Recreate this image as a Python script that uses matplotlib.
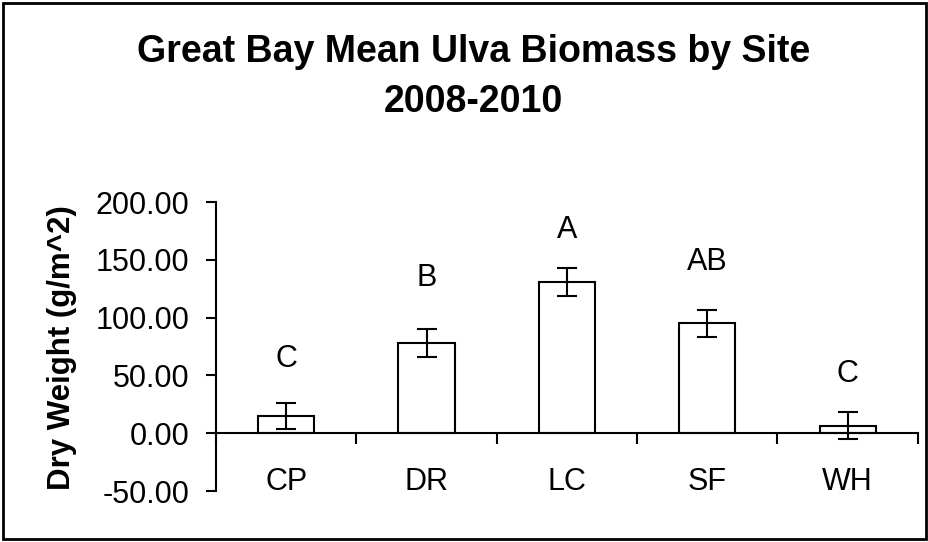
import numpy as np
import matplotlib
matplotlib.use("Agg")
import matplotlib.pyplot as plt
from matplotlib.patches import Rectangle

plt.rcParams['font.family'] = ['Liberation Sans', 'DejaVu Sans']

sites = ['CP', 'DR', 'LC', 'SF', 'WH']
means = [15.0, 78.0, 131.0, 95.0, 6.5]
errors = [11.5, 12.0, 12.0, 12.0, 11.5]
letters = ['C', 'B', 'A', 'AB', 'C']
letter_y = [64.0, 134.0, 176.0, 148.0, 51.0]
yticks = [-50, 0, 50, 100, 150, 200]

fig = plt.figure(figsize=(9.29, 5.42), dpi=100)
ax = fig.add_axes([0.2325, 0.094, 0.7555, 0.533])

x = np.arange(len(sites))
ax.bar(x, means, width=0.4, color='white', edgecolor='black', linewidth=1.5, zorder=2)
ax.errorbar(x, means, yerr=errors, fmt='none', ecolor='black', elinewidth=1.5,
            capsize=7, capthick=1.5, zorder=3)

for xi, lab, ly in zip(x, letters, letter_y):
    ax.text(xi, ly, lab, ha='center', va='center', fontsize=22)

ax.set_xlim(-0.5, len(sites) - 0.5)
ax.set_ylim(-50, 200)
ax.set_yticks(yticks)
ax.set_yticklabels(['%.2f' % v for v in yticks])

# category boundaries as major ticks, labels on minor ticks
ax.set_xticks(np.arange(len(sites) + 1) - 0.5)
ax.set_xticklabels([])
ax.set_xticks(x, minor=True)
ax.set_xticklabels(sites, minor=True)
ax.tick_params(axis='x', which='major', direction='out', length=8, width=1.5)
ax.tick_params(axis='x', which='minor', length=0, pad=24, labelsize=22)
ax.tick_params(axis='y', direction='out', length=7, width=1.5, pad=12, labelsize=22)

ax.spines['bottom'].set_position(('data', 0))
ax.spines['bottom'].set_linewidth(1.5)
ax.spines['left'].set_linewidth(1.5)
ax.spines['top'].set_visible(False)
ax.spines['right'].set_visible(False)

fig.text(0.067, 0.358, 'Dry Weight (g/m^2)', rotation=90, ha='center', va='center',
         fontsize=22.5, fontweight='bold')
fig.text(0.51, 0.904, 'Great Bay Mean Ulva Biomass by Site', ha='center', va='center',
         fontsize=27, fontweight='bold')
fig.text(0.51, 0.812, '2008-2010', ha='center', va='center',
         fontsize=27, fontweight='bold')

fig.patches.append(Rectangle((0.003, 0.005), 0.994, 0.99, transform=fig.transFigure,
                             fill=False, edgecolor='black', linewidth=2))

fig.savefig('out.png', dpi=100)
